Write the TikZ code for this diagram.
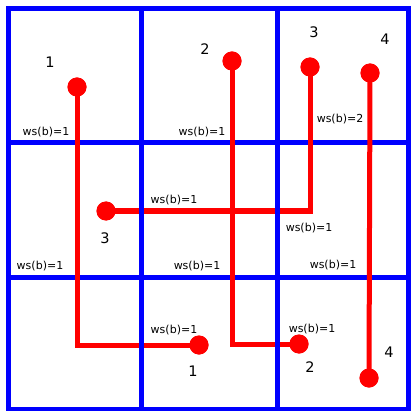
\documentclass[tikz,border=0pt]{standalone}
\usepackage{fontspec}
\setmainfont{DejaVu Sans}
\begin{document}
\begin{tikzpicture}[x=1pt,y=-1pt,
  gridline/.style={draw=blue,line width=5pt,line cap=rect},
  wire/.style={draw=red,line width=5pt},
  dot/.style={circle,fill=red,minimum size=19pt,inner sep=0pt},
  wslab/.style={font=\fontsize{11}{13}\selectfont,inner sep=0pt},
  numlab/.style={font=\fontsize{14.5}{16}\selectfont,inner sep=0pt}]
\useasboundingbox (0,0) rectangle (410,411);
% horizontal grid lines
\draw[gridline] (8.5,8.5) -- (408,8.5);
\draw[gridline] (8.5,143) -- (408,143);
\draw[gridline] (8.5,277) -- (408,277);
\draw[gridline] (8.5,409) -- (408,409);
% red dots
\node[dot] (a1) at (77,87) {};
\node[dot] (b1) at (199,345) {};
\node[dot] (a2) at (232,61) {};
\node[dot] (b2) at (299,344) {};
\node[dot] (a3) at (310,67) {};
\node[dot] (b3) at (106,211) {};
\node[dot] (a4) at (370,73) {};
\node[dot] (b4) at (369,378) {};
% red wires
\coordinate (c1) at (77,345);
\coordinate (c2) at (232,344);
\coordinate (c3) at (310,211);
\draw[wire] (a1.center) -- (c1) -- (b1.center);
\draw[wire] (a2.center) -- (c2) -- (b2.center);
\draw[wire] (a3.center) -- (c3) -- (b3.center);
\draw[wire] (a4.center) -- (b4.center);
% vertical grid lines
\draw[gridline] (8.5,8.5) -- (8.5,409);
\draw[gridline] (141,8.5) -- (141,409);
\draw[gridline] (277,8.5) -- (277,409);
\draw[gridline] (408,8.5) -- (408,409);
% redraw dots on top
\node[dot] at (a1) {};
\node[dot] at (b1) {};
\node[dot] at (a2) {};
\node[dot] at (b2) {};
\node[dot] at (a3) {};
\node[dot] at (b3) {};
\node[dot] at (a4) {};
\node[dot] at (b4) {};
% number labels
\node[numlab] (n1a) at (50,62) {1};
\node[numlab] (n1b) at (193,371) {1};
\node[numlab] (n2a) at (205,49) {2};
\node[numlab] (n2b) at (310,367) {2};
\node[numlab] (n3a) at (314,32) {3};
\node[numlab] (n3b) at (105,238) {3};
\node[numlab] (n4a) at (385,39) {4};
\node[numlab] (n4b) at (389,352) {4};
% ws labels
\node[wslab] (w1) at (46,132) {ws(b)=1};
\node[wslab] (w2) at (202,132) {ws(b)=1};
\node[wslab] (w3) at (340,119) {ws(b)=2};
\node[wslab] (w4) at (174,200) {ws(b)=1};
\node[wslab] (w5) at (309,228) {ws(b)=1};
\node[wslab] (w6) at (40,266) {ws(b)=1};
\node[wslab] (w7) at (197,266) {ws(b)=1};
\node[wslab] (w8) at (333,265) {ws(b)=1};
\node[wslab] (w9) at (174,330) {ws(b)=1};
\node[wslab] (w10) at (312,329) {ws(b)=1};
\end{tikzpicture}
\end{document}
